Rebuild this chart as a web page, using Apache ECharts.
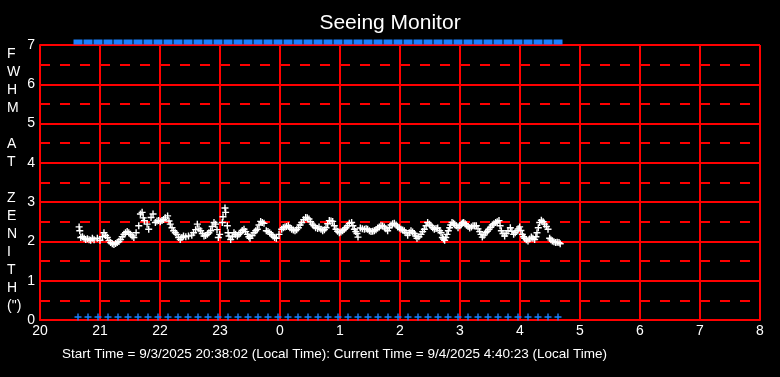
<!DOCTYPE html>
<html>
<head>
<meta charset="utf-8">
<title>Seeing Monitor</title>
<script src="https://cdn.jsdelivr.net/npm/echarts@6/dist/echarts.min.js"></script>
<style>
    html, body { margin: 0; padding: 0; background: #000; }
    #chart { width: 780px; height: 377px; }
</style>
</head>
<body>
<div id="chart"></div>
<script>
// hours after local midnight of the start day (values past 24 are next morning)
const seeingTime = [
    20.652, 20.663, 20.680, 20.707, 20.735, 20.762, 20.790, 20.818, 20.845, 20.873, 20.901, 20.956,
    21.000, 21.039, 21.066, 21.094, 21.122, 21.150, 21.177, 21.205, 21.232, 21.260, 21.287, 21.315,
    21.343, 21.370, 21.398, 21.425, 21.453, 21.480, 21.508, 21.536, 21.564, 21.602, 21.646, 21.674,
    21.702, 21.720, 21.740, 21.785, 21.812, 21.851, 21.884, 21.923, 21.950, 21.978, 22.005, 22.033,
    22.060, 22.088, 22.127, 22.150, 22.171, 22.200, 22.227, 22.255, 22.282, 22.310, 22.337, 22.365,
    22.392, 22.430, 22.475, 22.530, 22.560, 22.594, 22.622, 22.650, 22.678, 22.705, 22.733, 22.760,
    22.789, 22.815, 22.844, 22.870, 22.900, 22.928, 22.950, 22.972, 22.994, 23.039, 23.050, 23.083,
    23.094, 23.122, 23.135, 23.150, 23.178, 23.205, 23.233, 23.260, 23.289, 23.315, 23.344, 23.370,
    23.400, 23.428, 23.456, 23.480, 23.500, 23.535, 23.567, 23.595, 23.622, 23.650, 23.678, 23.705,
    23.733, 23.772, 23.800, 23.828, 23.855, 23.883, 23.910, 23.939, 23.983, 24.028, 24.055, 24.083,
    24.110, 24.139, 24.165, 24.194, 24.222, 24.250, 24.278, 24.306, 24.335, 24.361, 24.395, 24.428,
    24.455, 24.483, 24.510, 24.539, 24.565, 24.594, 24.628, 24.650, 24.683, 24.711, 24.740, 24.767,
    24.795, 24.822, 24.850, 24.878, 24.905, 24.933, 24.960, 24.989, 25.015, 25.044, 25.072, 25.100,
    25.128, 25.156, 25.194, 25.215, 25.239, 25.262, 25.283, 25.300, 25.339, 25.372, 25.406, 25.435,
    25.461, 25.490, 25.517, 25.545, 25.572, 25.600, 25.628, 25.655, 25.683, 25.710, 25.739, 25.765,
    25.794, 25.822, 25.850, 25.878, 25.906, 25.935, 25.961, 25.990, 26.017, 26.045, 26.072, 26.100,
    26.128, 26.155, 26.183, 26.210, 26.239, 26.262, 26.283, 26.315, 26.350, 26.378, 26.406, 26.435,
    26.461, 26.490, 26.517, 26.545, 26.572, 26.600, 26.628, 26.661, 26.683, 26.706, 26.725, 26.744,
    26.763, 26.783, 26.805, 26.828, 26.845, 26.867, 26.890, 26.911, 26.940, 26.967, 26.995, 27.022,
    27.040, 27.061, 27.085, 27.106, 27.135, 27.161, 27.190, 27.217, 27.245, 27.272, 27.300, 27.328,
    27.350, 27.372, 27.400, 27.428, 27.455, 27.483, 27.510, 27.539, 27.565, 27.594, 27.620, 27.650,
    27.668, 27.689, 27.715, 27.744, 27.770, 27.800, 27.839, 27.865, 27.894, 27.920, 27.950, 27.970,
    27.994, 28.015, 28.039, 28.060, 28.078, 28.105, 28.133, 28.160, 28.189, 28.215, 28.244, 28.265,
    28.283, 28.305, 28.328, 28.356, 28.385, 28.411, 28.440, 28.467, 28.494, 28.515, 28.539, 28.565,
    28.594, 28.620, 28.650, 28.670
]
const seeingFwhm = [
    2.37, 2.27, 2.10, 2.12, 2.08, 2.05, 2.07, 2.04, 2.03, 2.08, 2.04, 2.08,
    2.03, 2.12, 2.22, 2.15, 2.10, 2.02, 1.97, 1.94, 1.92, 1.95, 1.97, 2.00,
    2.05, 2.12, 2.18, 2.22, 2.25, 2.22, 2.18, 2.14, 2.10, 2.22, 2.40, 2.70,
    2.74, 2.60, 2.53, 2.44, 2.31, 2.61, 2.70, 2.48, 2.52, 2.53, 2.50, 2.53,
    2.56, 2.60, 2.65, 2.52, 2.44, 2.35, 2.27, 2.22, 2.18, 2.10, 2.05, 2.10,
    2.14, 2.12, 2.14, 2.16, 2.22, 2.30, 2.44, 2.32, 2.27, 2.20, 2.14, 2.15,
    2.18, 2.22, 2.27, 2.38, 2.48, 2.44, 2.30, 2.10, 2.18, 2.48, 2.63, 2.85,
    2.74, 2.40, 2.22, 2.14, 2.05, 2.12, 2.22, 2.18, 2.14, 2.18, 2.22, 2.28,
    2.31, 2.25, 2.18, 2.12, 2.08, 2.15, 2.22, 2.27, 2.31, 2.42, 2.51, 2.48,
    2.46, 2.27, 2.25, 2.22, 2.18, 2.14, 2.10, 2.08, 2.18, 2.31, 2.35, 2.37,
    2.38, 2.40, 2.35, 2.31, 2.29, 2.27, 2.30, 2.35, 2.42, 2.48, 2.55, 2.61,
    2.60, 2.57, 2.50, 2.44, 2.40, 2.35, 2.33, 2.37, 2.31, 2.27, 2.30, 2.35,
    2.45, 2.53, 2.52, 2.51, 2.40, 2.31, 2.26, 2.22, 2.24, 2.27, 2.31, 2.35,
    2.40, 2.46, 2.48, 2.40, 2.31, 2.25, 2.20, 2.11, 2.34, 2.32, 2.31, 2.32,
    2.31, 2.27, 2.25, 2.26, 2.27, 2.30, 2.34, 2.37, 2.40, 2.39, 2.37, 2.32,
    2.27, 2.35, 2.42, 2.45, 2.46, 2.42, 2.37, 2.34, 2.31, 2.29, 2.27, 2.22,
    2.16, 2.22, 2.27, 2.24, 2.20, 2.14, 2.08, 2.12, 2.18, 2.25, 2.31, 2.40,
    2.48, 2.44, 2.40, 2.35, 2.31, 2.33, 2.34, 2.27, 2.22, 2.10, 2.06, 2.03,
    2.10, 2.18, 2.27, 2.35, 2.42, 2.48, 2.46, 2.44, 2.40, 2.35, 2.40, 2.44,
    2.47, 2.48, 2.45, 2.42, 2.38, 2.34, 2.37, 2.40, 2.40, 2.40, 2.32, 2.25,
    2.18, 2.11, 2.16, 2.22, 2.26, 2.31, 2.36, 2.42, 2.45, 2.48, 2.50, 2.53,
    2.40, 2.27, 2.20, 2.14, 2.20, 2.27, 2.35, 2.26, 2.18, 2.22, 2.27, 2.32,
    2.37, 2.28, 2.18, 2.12, 2.08, 2.04, 2.01, 2.06, 2.11, 2.08, 2.05, 2.12,
    2.22, 2.35, 2.48, 2.54, 2.50, 2.44, 2.38, 2.31, 2.08, 2.04, 2.01, 1.99,
    1.97, 1.98, 1.97, 1.94
]
// 10-minute status samples (blue marks, top and bottom rows)
const statusTimes = [
    '20:38', '20:48', '20:58', '21:08', '21:18', '21:28', '21:38', '21:48', '21:58',
    '22:08', '22:18', '22:28', '22:38', '22:48', '22:58', '23:08', '23:18', '23:28',
    '23:38', '23:48', '23:58', '0:08', '0:18', '0:28', '0:38', '0:48', '0:58',
    '1:08', '1:18', '1:28', '1:38', '1:48', '1:58', '2:08', '2:18', '2:28',
    '2:38', '2:48', '2:58', '3:08', '3:18', '3:28', '3:38', '3:48', '3:58',
    '4:08', '4:18', '4:28', '4:38'
]
const yTitle = ['F', 'W', 'H', 'M', '', 'A', 'T', '', 'Z', 'E', 'N', 'I', 'T', 'H', '(")']
const footer = 'Start Time = 9/3/2025 20:38:02 (Local Time): Current Time = 9/4/2025 4:40:23 (Local Time)'

const toHours = s => {
    const [h, m] = s.split(':').map(Number)
    return (h < 12 ? h + 24 : h) + m / 60
}
const statusHours = statusTimes.map(toHours)

// "+" glyph, bars a little over 1px so they stay bright
const plus = 'path://M2.8,0H4.2V7H2.8ZM0,2.8H7V4.2H0Z'
const red = '#ff0000'
const blue = '#1a80ff'
const font = '"Liberation Sans", Arial, sans-serif'

const chart = echarts.init(document.getElementById('chart'))
chart.setOption({
    backgroundColor: '#000',
    animation: false,
    title: {
        text: 'Seeing Monitor',
        left: 'center',
        top: 8,
        textStyle: { color: '#fff', fontSize: 21, fontWeight: 'normal', fontFamily: font }
    },
    grid: { left: 40, right: 20, top: 45, bottom: 57 },
    xAxis: {
        type: 'value',
        min: 20,
        max: 32,
        interval: 1,
        axisLine: { lineStyle: { color: red, width: 2 } },
        axisTick: { show: false },
        axisLabel: {
            color: '#fff',
            fontSize: 14,
            fontFamily: font,
            margin: 4,
            formatter: v => String(v % 24)
        },
        splitLine: { lineStyle: { color: red, width: 2 } }
    },
    yAxis: {
        type: 'value',
        min: 0,
        max: 7,
        interval: 1,
        axisLine: { show: true, lineStyle: { color: red, width: 2 } },
        axisTick: { show: false },
        axisLabel: { color: '#fff', fontSize: 14, fontFamily: font, margin: 5 },
        splitLine: { lineStyle: { color: red, width: 2 } },
        minorTick: { show: false, splitNumber: 2 },
        minorSplitLine: { show: true, lineStyle: { color: red, width: 2, type: [10, 10] } }
    },
    graphic: [{
        type: 'text',
        left: 7,
        top: 45,
        style: {
            text: yTitle.join('\n'),
            fill: '#fff',
            font: '14px ' + font,
            lineHeight: 18,
            align: 'center',
            width: 16
        }
    }, {
        type: 'text',
        left: 62,
        top: 347,
        style: { text: footer, fill: '#fff', font: '13.5px ' + font }
    }],
    series: [{
        type: 'scatter',
        symbol: 'rect',
        symbolSize: [9, 5],
        symbolOffset: [0, -3],
        clip: false,
        itemStyle: { color: blue, opacity: 1 },
        data: statusHours.map(t => [t, 7])
    }, {
        type: 'scatter',
        symbol: plus,
        symbolSize: 7,
        symbolOffset: [0, -3],
        clip: false,
        itemStyle: { color: blue, opacity: 1 },
        data: statusHours.map(t => [t, 0])
    }, {
        type: 'scatter',
        symbol: plus,
        symbolSize: 7,
        itemStyle: { color: '#fff', opacity: 1 },
        data: seeingTime.map((t, i) => [t, seeingFwhm[i]])
    }]
})
</script>
</body>
</html>
